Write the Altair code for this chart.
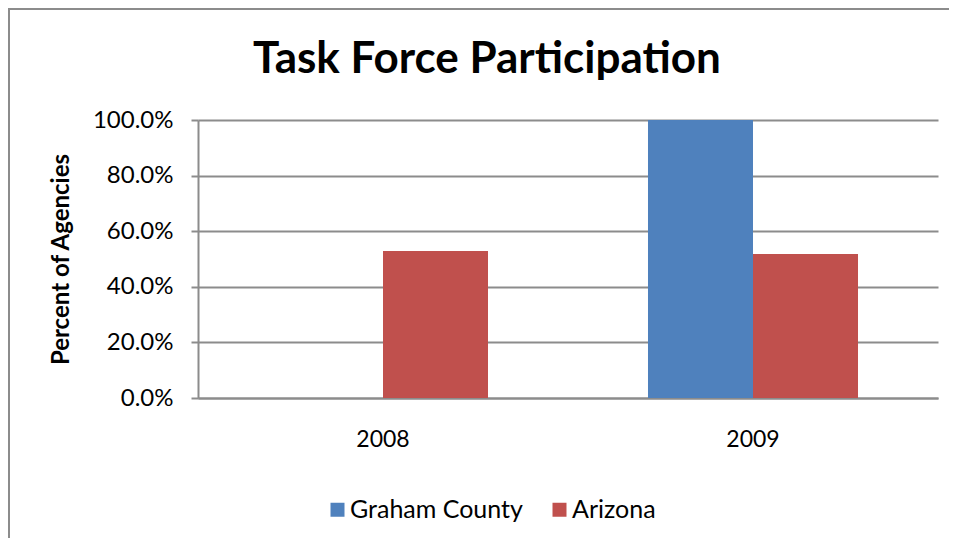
import altair as alt
import pandas as pd

years = ["2008", "2009"]
series = ["Graham County", "Arizona"]
graham = [0.0, 1.0]
arizona = [0.529, 0.518]
colors = ["#4F81BD", "#C0504D"]
y_ticks = [0.0, 0.2, 0.4, 0.6, 0.8, 1.0]

rows = []
for i, yr in enumerate(years):
    rows.append({"year": yr, "series": series[0], "value": graham[i]})
    rows.append({"year": yr, "series": series[1], "value": arizona[i]})
df = pd.DataFrame(rows)

FONT = "Lato"
GRAY = "#8c8c8c"

bars = alt.Chart(df).mark_bar().encode(
    x=alt.X("year:N", sort=years,
            scale=alt.Scale(paddingInner=0.4324, paddingOuter=0.2162),
            axis=alt.Axis(title=None, labelAngle=0, ticks=False, labelPadding=30,
                          labelFontSize=23, labelFont=FONT, labelColor="black",
                          domainColor=GRAY, domainWidth=2, grid=False)),
    xOffset=alt.XOffset("series:N", sort=series),
    y=alt.Y("value:Q", scale=alt.Scale(domain=[0, 1]),
            axis=alt.Axis(title="Percent of Agencies", format=".1%", values=y_ticks,
                          titleFont=FONT, titleFontSize=24, titleFontWeight="bold",
                          titleColor="black", titlePadding=19,
                          labelFont=FONT, labelFontSize=24, labelColor="black",
                          labelPadding=18, tickSize=7, tickColor=GRAY, tickWidth=2,
                          domainColor=GRAY, domainWidth=2,
                          gridColor=GRAY, gridWidth=2)),
    color=alt.Color("series:N", sort=series,
                    scale=alt.Scale(domain=series, range=colors),
                    legend=alt.Legend(title=None, orient="none", direction="horizontal",
                                      legendX=127, legendY=377,
                                      symbolType="square", symbolSize=196,
                                      symbolStrokeWidth=0, labelFont=FONT,
                                      labelFontSize=25, labelColor="black",
                                      labelLimit=400,
                                      labelOffset=0, columnPadding=24)),
)

border_top = alt.Chart(df).mark_rule(color=GRAY, strokeWidth=2).encode(
    x=alt.value(-190), x2=alt.value(760), y=alt.value(-111)
)
border_left = alt.Chart(df).mark_rule(color=GRAY, strokeWidth=2).encode(
    x=alt.value(-189), y=alt.value(-112), y2=alt.value(430)
)

chart = alt.layer(bars, border_top, border_left).properties(
    width=740, height=278,
    autosize=alt.AutoSizeParams(type="none"),
    padding={"left": 190, "top": 112, "right": 11, "bottom": 140},
    title=alt.TitleParams("Task Force Participation", font=FONT, fontSize=44,
                          fontWeight="bold", color="black", anchor="middle",
                          frame="group", dx=-81, offset=22, dy=97),
).configure_view(stroke=None).configure_axisY(grid=True)

chart.save("out.html", embed_options={"renderer": "svg", "actions": False})
